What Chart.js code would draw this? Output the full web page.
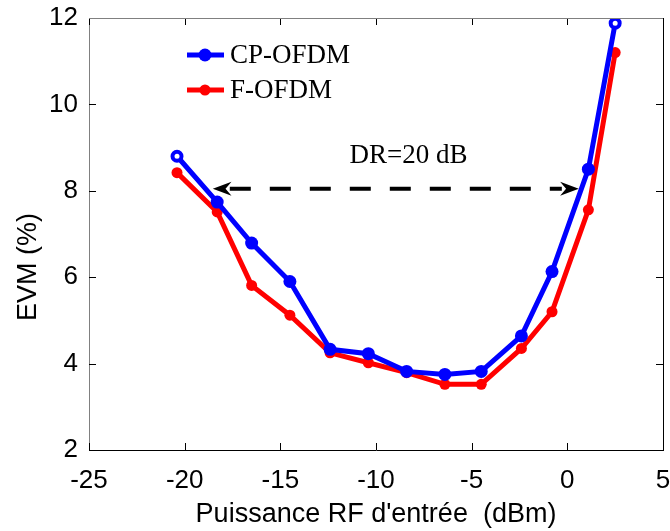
<!DOCTYPE html>
<html>
<head>
<meta charset="utf-8">
<script src="https://cdn.jsdelivr.net/npm/chart.js@4.4.1/dist/chart.umd.min.js"></script>
<style>
  html, body { margin: 0; padding: 0; background: #fff; }
  #wrap { width: 670px; height: 531px; }
</style>
</head>
<body>
<div id="wrap"><canvas id="chart" width="670" height="531"></canvas></div>
<script>
// Données
const xValues = [-20.4, -18.3, -16.5, -14.5, -12.4, -10.4, -8.4, -6.4, -4.5, -2.4, -0.8, 1.1, 2.5];
const cpOfdm = [8.8, 7.74, 6.79, 5.9, 4.33, 4.23, 3.82, 3.75, 3.82, 4.64, 6.13, 8.5, 11.88];
const fOfdm = [8.42, 7.51, 5.81, 5.12, 4.25, 4.02, 3.79, 3.52, 3.52, 4.35, 5.2, 7.56, 11.2];
const seriesNames = ["CP-OFDM", "F-OFDM"];
const seriesColors = ["#0000ff", "#ff0000"];
const xTicks = [-25, -20, -15, -10, -5, 0, 5];
const yTicks = [2, 4, 6, 8, 10, 12];
const drRange = [-18.53, 0.6]; // flèche DR
const drLevel = 8.05;
const drLabel = "DR=20 dB";
const drLabelX = -8.3;
const xTitle = "Puissance RF d'entrée  (dBm)";
const yTitle = "EVM (%)";

const sansFont = "'Liberation Sans', Arial, sans-serif";
const serifFont = "'Liberation Serif', 'Times New Roman', serif";
Chart.defaults.font.family = sansFont;

const toPoints = ys => ys.map((y, i) => ({ x: xValues[i], y: y }));
const lastIdx = xValues.length - 1;
const isHollow = i => i === 0 || i === lastIdx;

// Cadre, graduations intérieures, titres, légende et flèche
const decorPlugin = {
  id: "decor",
  afterDraw(chart) {
    const ctx = chart.ctx;
    const xs = chart.scales.x;
    const ys = chart.scales.y;
    const a = chart.chartArea;
    ctx.save();

    // graduations vers l'intérieur
    ctx.lineWidth = 1;
    ctx.strokeStyle = "#000";
    const tl = 7;
    xTicks.forEach(v => {
      const px = Math.round(xs.getPixelForValue(v)) + 0.5;
      ctx.beginPath();
      ctx.moveTo(px, a.bottom); ctx.lineTo(px, a.bottom - tl);
      ctx.moveTo(px, a.top); ctx.lineTo(px, a.top + tl);
      ctx.stroke();
    });
    yTicks.forEach(v => {
      const py = Math.round(ys.getPixelForValue(v)) + 0.5;
      ctx.beginPath();
      ctx.moveTo(a.left, py); ctx.lineTo(a.left + tl, py);
      ctx.moveTo(a.right, py); ctx.lineTo(a.right - tl, py);
      ctx.stroke();
    });

    // cadre haut et droite
    ctx.strokeStyle = "#808080";
    ctx.beginPath();
    ctx.moveTo(a.left, Math.round(a.top) + 0.5);
    ctx.lineTo(a.right, Math.round(a.top) + 0.5);
    ctx.stroke();
    ctx.strokeStyle = "#000";
    ctx.beginPath();
    ctx.moveTo(Math.round(a.right) + 0.5, a.top);
    ctx.lineTo(Math.round(a.right) + 0.5, a.bottom);
    ctx.stroke();

    // titres des axes
    ctx.fillStyle = "#000";
    ctx.font = "27px " + sansFont;
    ctx.textAlign = "center";
    ctx.textBaseline = "middle";
    ctx.fillText(xTitle, (a.left + a.right) / 2, 515);
    ctx.save();
    ctx.translate(29, 267);
    ctx.rotate(-Math.PI / 2);
    ctx.fillText(yTitle, 0, 0);
    ctx.restore();

    // flèche DR
    const x1 = xs.getPixelForValue(drRange[0]);
    const x2 = xs.getPixelForValue(drRange[1]);
    const yy = ys.getPixelForValue(drLevel);
    const head = 17;
    ctx.strokeStyle = "#000";
    ctx.lineWidth = 4;
    ctx.setLineDash([21, 19]);
    ctx.beginPath();
    ctx.moveTo(x1 + head, yy);
    ctx.lineTo(x2 - head, yy);
    ctx.stroke();
    ctx.setLineDash([]);
    const drawHead = (tip, dir) => {
      ctx.beginPath();
      ctx.moveTo(tip, yy);
      ctx.lineTo(tip + dir * head * 1.1, yy - 7);
      ctx.lineTo(tip + dir * head * 0.75, yy);
      ctx.lineTo(tip + dir * head * 1.1, yy + 7);
      ctx.closePath();
      ctx.fillStyle = "#000";
      ctx.fill();
    };
    drawHead(x1, 1);
    drawHead(x2, -1);
    ctx.font = "27px " + serifFont;
    ctx.textAlign = "center";
    ctx.textBaseline = "middle";
    ctx.fillText(drLabel, xs.getPixelForValue(drLabelX), 156);

    // légende
    ctx.textAlign = "left";
    seriesNames.forEach((name, i) => {
      const ly = 55 + i * 35;
      ctx.strokeStyle = seriesColors[i];
      ctx.lineWidth = 5;
      ctx.beginPath();
      ctx.moveTo(187, ly); ctx.lineTo(224, ly);
      ctx.stroke();
      ctx.fillStyle = seriesColors[i];
      ctx.beginPath();
      ctx.arc(205, ly, i === 0 ? 6.5 : 5.5, 0, Math.PI * 2);
      ctx.fill();
      ctx.fillStyle = "#000";
      ctx.font = "27px " + serifFont;
      ctx.fillText(name, 230, ly + 1);
    });
    ctx.restore();
  }
};

const ctx = document.getElementById("chart").getContext("2d");
new Chart(ctx, {
  type: "scatter",
  data: {
    datasets: [
      {
        label: seriesNames[0],
        data: toPoints(cpOfdm),
        showLine: true,
        borderColor: seriesColors[0],
        backgroundColor: seriesColors[0],
        borderWidth: 5,
        pointRadius: c => (isHollow(c.dataIndex) ? 4.5 : 6.5),
        pointBorderWidth: c => (isHollow(c.dataIndex) ? 4 : 0),
        pointBorderColor: seriesColors[0],
        pointBackgroundColor: c => (isHollow(c.dataIndex) ? "#ffffff" : seriesColors[0])
      },
      {
        label: seriesNames[1],
        data: toPoints(fOfdm),
        showLine: true,
        borderColor: seriesColors[1],
        backgroundColor: seriesColors[1],
        borderWidth: 5,
        pointRadius: 5.5,
        pointBorderWidth: 0,
        pointBackgroundColor: seriesColors[1]
      }
    ]
  },
  options: {
    responsive: false,
    animation: false,
    layout: { autoPadding: false, padding: { top: 18, right: 7, left: 0, bottom: 0 } },
    plugins: {
      legend: { display: false },
      tooltip: { enabled: false }
    },
    scales: {
      x: {
        type: "linear",
        min: -25,
        max: 5,
        afterBuildTicks: s => { s.ticks = xTicks.map(v => ({ value: v })); },
        ticks: { color: "#000", font: { size: 26 }, padding: 15, maxRotation: 0 },
        grid: { display: false, drawTicks: false },
        border: { display: true, color: "#000", width: 1 },
        afterFit: s => { s.height = 81; s.paddingLeft = 0; s.paddingRight = 0; }
      },
      y: {
        type: "linear",
        min: 2,
        max: 12,
        afterBuildTicks: s => { s.ticks = yTicks.map(v => ({ value: v })); },
        ticks: { color: "#000", font: { size: 26 }, padding: 11 },
        grid: { display: false, drawTicks: false },
        border: { display: true, color: "#808080", width: 1 },
        afterFit: s => { s.width = 89; s.paddingTop = 0; s.paddingBottom = 0; }
      }
    }
  },
  plugins: [decorPlugin]
});
</script>
</body>
</html>
